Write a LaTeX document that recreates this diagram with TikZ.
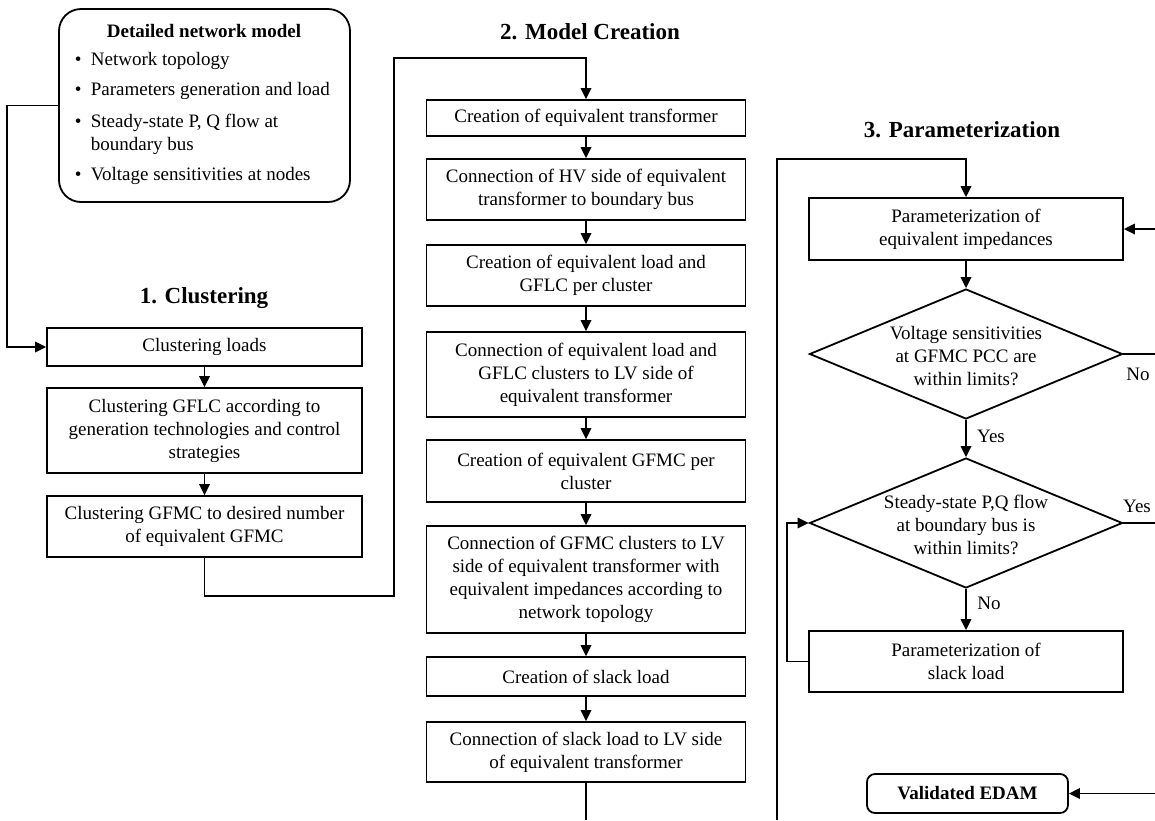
\documentclass[tikz,border=0pt]{standalone}
\usepackage{fontspec}
\setmainfont{Liberation Serif}
\usetikzlibrary{arrows.meta,shapes.geometric}

\begin{document}
\begin{tikzpicture}[x=1pt,y=-1pt,
  line width=1.8pt,
  txt/.style={font=\fontsize{19}{23}\selectfont, inner sep=0pt},
  heading/.style={font=\fontsize{23}{27}\selectfont\bfseries, inner sep=0pt},
  stepbox/.style={draw, rectangle, align=center, inner sep=2pt,
    font=\fontsize{19}{23}\selectfont, line width=1.8pt},
  col1/.style={stepbox, minimum width=315pt},
  col2/.style={stepbox, minimum width=319pt},
  col3/.style={stepbox, minimum width=314pt},
  decision/.style={draw, diamond, minimum width=313pt, minimum height=130pt,
    inner sep=0pt, line width=1.8pt},
  endbox/.style={draw, rectangle, rounded corners=8pt, align=center,
    line width=1.8pt},
  arr/.style={-{Triangle[length=11pt,width=10.5pt]}},
  lbl/.style={txt}]

\useasboundingbox (0,0) rectangle (1155,820);

% ---------- input model ----------
\node[draw, rectangle, rounded corners=22pt, minimum width=291pt,
      minimum height=193pt, line width=1.8pt] (dnm) at (204.5,105.5) {};
\node[txt, font=\fontsize{19}{23}\selectfont\bfseries] (dnmtitle) at (204,31) {Detailed network model};
\node[txt, anchor=west] (dnmb1) at (74,61) {\makebox[16pt][l]{\textbullet}Network topology};
\node[txt, anchor=west] (dnmb2) at (74,91) {\makebox[16pt][l]{\textbullet}Parameters generation and load};
\node[txt, anchor=west, align=left] (dnmb3) at (74,134.5) {\makebox[16pt][l]{\textbullet}Steady-state P, Q flow at\\\hspace*{16pt}boundary bus};
\node[txt, anchor=west] (dnmb4) at (74,176) {\makebox[16pt][l]{\textbullet}Voltage sensitivities at nodes};

% ---------- 1. Clustering ----------
\node[heading] (h1) at (204,298) {1. Clustering};
\node[col1, minimum height=38pt] (c1) at (204.5,347) {Clustering loads};
\node[col1, minimum height=85pt] (c2) at (204.5,430.5)
  {Clustering GFLC according to\\generation technologies and control\\strategies};
\node[col1, minimum height=61pt] (c3) at (204.5,526.5)
  {Clustering GFMC to desired number\\of equivalent GFMC};

% ---------- 2. Model Creation ----------
\node[heading] (h2) at (590,32) {2. Model Creation};
\node[col2, minimum height=36pt] (m1) at (586,118) {Creation of equivalent transformer};
\node[col2, minimum height=61pt] (m2) at (586,189.5)
  {Connection of HV side of equivalent\\transformer to boundary bus};
\node[col2, minimum height=61pt] (m3) at (586,275.5)
  {Creation of equivalent load and\\GFLC per cluster};
\node[col2, minimum height=85pt] (m4) at (586,374.5)
  {Connection of equivalent load and\\GFLC clusters to LV side of\\equivalent transformer};
\node[col2, minimum height=62pt] (m5) at (586,471)
  {Creation of equivalent GFMC per\\cluster};
\node[col2, minimum height=107pt] (m6) at (586,579.5)
  {Connection of GFMC clusters to LV\\side of equivalent transformer with\\equivalent impedances according to\\network topology};
\node[col2, minimum height=39pt] (m7) at (586,676.5) {Creation of slack load};
\node[col2, minimum height=60pt] (m8) at (586,752)
  {Connection of slack load to LV side\\of equivalent transformer};

% ---------- 3. Parameterization ----------
\node[heading] (h3) at (962,130) {3. Parameterization};
\node[col3, minimum height=62pt] (p1) at (966,229)
  {Parameterization of\\equivalent impedances};
\node[decision] (d1) at (966,354) {};
\node[txt, align=center] (d1txt) at (966,356)
  {Voltage sensitivities\\at GFMC PCC are\\within limits?};
\node[decision] (d2) at (966,523) {};
\node[txt, align=center] (d2txt) at (966,525)
  {Steady-state P,Q flow\\at boundary bus is\\within limits?};
\node[col3, minimum height=61pt] (p2) at (966,661.5)
  {Parameterization of\\slack load};
\node[endbox, minimum width=201pt, minimum height=39pt,
      font=\fontsize{19}{23}\selectfont\bfseries] (edam) at (967.5,793.5) {Validated EDAM};

% branch labels
\node[lbl] (no1) at (1138,374) {No};
\node[lbl] (yes1) at (991,436) {Yes};
\node[lbl] (yes2) at (1137,506) {Yes};
\node[lbl] (no2) at (989,603) {No};

% free ends at the picture border
\coordinate (m8end) at (586,820);
\coordinate (loopstart) at (777,820);
\coordinate (rimp) at (1155,229);
\coordinate (rno) at (1155,354);
\coordinate (ryes) at (1155,523);
\coordinate (redam) at (1155,793.5);

% ---------- connectors ----------
\draw[arr] (dnm.west) -- ++(-51,0) |- (c1.west);
\draw[arr] (c1) -- (c2);
\draw[arr] (c2) -- (c3);
\draw[arr] (c3.south) -- ++(0,38) -| (394,58) -| (m1.north);

\draw[arr] (m1) -- (m2);
\draw[arr] (m2) -- (m3);
\draw[arr] (m3) -- (m4);
\draw[arr] (m4) -- (m5);
\draw[arr] (m5) -- (m6);
\draw[arr] (m6) -- (m7);
\draw[arr] (m7) -- (m8);
\draw (m8.south) -- (m8end);

\draw[arr] (loopstart) -- (777,159) -| (p1.north);
\draw[arr] (rimp) -- (p1.east);
\draw[arr] (p1.south) -- (d1.north);
\draw (d1.east) -- (rno);
\draw[arr] (d1.south) -- (d2.north);
\draw (d2.east) -- (ryes);
\draw[arr] (d2.south) -- (p2.north);
\draw[arr] (p2.west) -- ++(-21,0) |- (d2.west);
\draw[arr] (redam) -- (edam.east);

\end{tikzpicture}
\end{document}
